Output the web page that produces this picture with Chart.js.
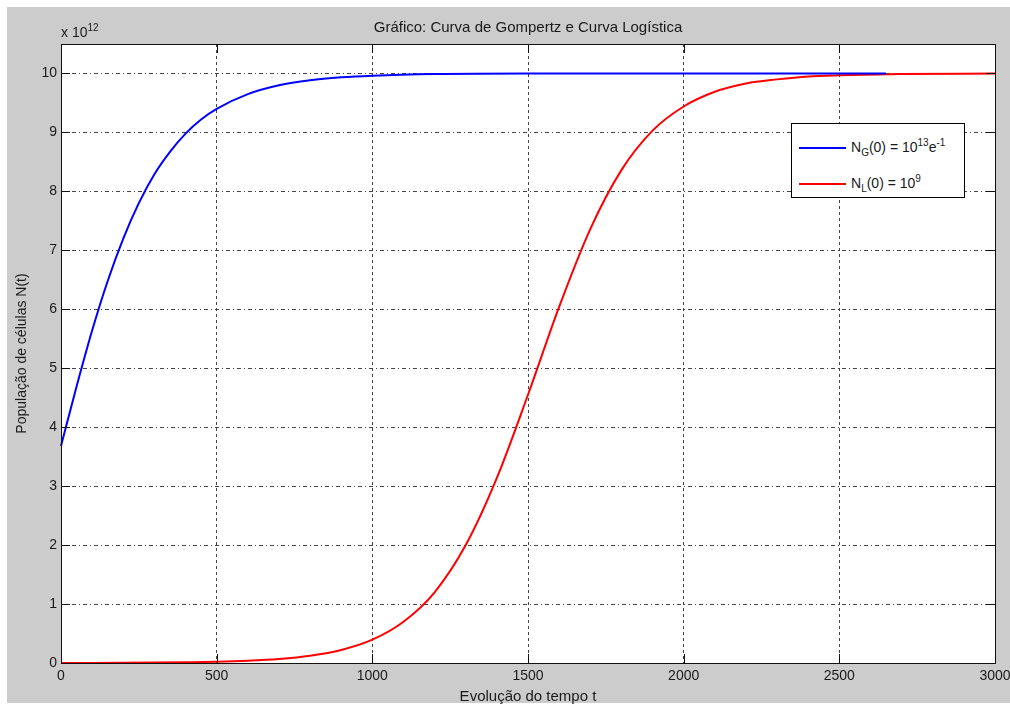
<!DOCTYPE html>
<html>
<head>
<meta charset="utf-8">
<script src="https://cdn.jsdelivr.net/npm/chart.js@4"></script>
<style>
  html, body { margin: 0; padding: 0; background: #fff; }
  body { width: 1010px; height: 706px; position: relative; overflow: hidden; font-family: "Liberation Sans", Arial, sans-serif; color: #1a1a1a; }
  #frame { position: absolute; left: 7px; top: 7px; width: 1003px; height: 696px; background: #cccccc; }
  #wrap { position: absolute; left: 0; top: 0; width: 1010px; height: 706px; }
  #title { position: absolute; left: 61px; width: 934px; top: 18px; text-align: center; font-size: 15px; }
  #mult { position: absolute; left: 61px; top: 22px; font-size: 14px; }
  #mult sup, #legend sup { font-size: 10px; vertical-align: 6px; }
  #legend sub { font-size: 10px; vertical-align: -4px; }
  #legend { position: absolute; left: 791px; top: 123px; width: 172px; height: 73px; border: 1px solid #000; background: #fff; font-size: 14px; }
  .row { position: absolute; left: 7px; height: 20px; line-height: 20px; white-space: nowrap; }
  .swatch { display: inline-block; width: 47px; height: 0; border-top: 2px solid; vertical-align: middle; margin-right: 5px; }
</style>
</head>
<body>
<div id="frame"></div>
<div id="wrap"><canvas id="chart" width="1010" height="706"></canvas></div>
<div id="title">Gráfico: Curva de Gompertz e Curva Logística</div>
<div id="mult">x 10<sup>12</sup></div>
<div id="legend"></div>
<script>
// Gompertz curve, N in units of 10^12
const gompTime = [0, 50, 100, 150, 200, 250, 300, 350, 400, 450, 500, 600, 700, 800, 900, 1000, 1200, 1500, 2000, 2650];
const gompValues = [3.68, 4.69, 5.64, 6.48, 7.20, 7.80, 8.29, 8.67, 8.98, 9.22, 9.40, 9.65, 9.80, 9.885, 9.934, 9.962, 9.99, 10, 10, 10];

// Logistic curve
const logTime = [0, 100, 200, 300, 400, 500, 600, 700, 800, 900, 1000, 1100, 1200, 1300, 1400, 1500, 1600, 1700, 1800, 1900, 2000, 2100, 2200, 2300, 2400, 2500, 2700, 3000];
const logValues = [0.001, 0.002, 0.004, 0.007, 0.012, 0.02, 0.037, 0.067, 0.122, 0.22, 0.395, 0.70, 1.20, 2.0, 3.14, 4.55, 6.04, 7.36, 8.36, 9.03, 9.44, 9.69, 9.83, 9.90, 9.95, 9.97, 9.99, 10];

const xTicks = [0, 500, 1000, 1500, 2000, 2500, 3000];
const yTicks = [0, 1, 2, 3, 4, 5, 6, 7, 8, 9, 10];

const seriesLabels = ['N<sub>G</sub>(0) = 10<sup>13</sup>e<sup>-1</sup>', 'N<sub>L</sub>(0) = 10<sup>9</sup>'];
const seriesColors = ['#0000ff', '#ff0000'];

const toPoints = (xs, ys) => xs.map((x, i) => ({ x, y: ys[i] }));
const font = { family: '"Liberation Sans", Arial, sans-serif', size: 14 };
const labelFont = { family: '"Liberation Sans", Arial, sans-serif', size: 15 };

// white axes area, box and inward ticks like matlab
const axesBox = {
  id: 'axesBox',
  beforeDraw(chart) {
    const { ctx, chartArea: a } = chart;
    ctx.save();
    ctx.fillStyle = '#fff';
    ctx.fillRect(a.left, a.top, a.right - a.left, a.bottom - a.top);
    ctx.restore();
  },
  afterDraw(chart) {
    const { ctx, chartArea: a, scales } = chart;
    ctx.save();
    ctx.strokeStyle = '#111';
    ctx.lineWidth = 1;
    ctx.beginPath();
    xTicks.forEach(v => {
      const px = Math.round(scales.x.getPixelForValue(v)) + 0.5;
      ctx.moveTo(px, a.bottom); ctx.lineTo(px, a.bottom - 9);
      ctx.moveTo(px, a.top); ctx.lineTo(px, a.top + 9);
    });
    yTicks.forEach(v => {
      const py = Math.round(scales.y.getPixelForValue(v)) + 0.5;
      ctx.moveTo(a.left, py); ctx.lineTo(a.left + 9, py);
      ctx.moveTo(a.right, py); ctx.lineTo(a.right - 9, py);
    });
    ctx.stroke();
    ctx.strokeRect(Math.round(a.left) + 0.5, Math.round(a.top) + 0.5, Math.round(a.right - a.left), Math.round(a.bottom - a.top));
    ctx.restore();
  }
};

const chart = new Chart(document.getElementById('chart'), {
  type: 'line',
  data: {
    datasets: [
      { data: toPoints(gompTime, gompValues), borderColor: seriesColors[0], borderWidth: 2, pointRadius: 0, cubicInterpolationMode: 'monotone', clip: 4 },
      { data: toPoints(logTime, logValues), borderColor: seriesColors[1], borderWidth: 2, pointRadius: 0, cubicInterpolationMode: 'monotone', clip: 4 }
    ]
  },
  options: {
    responsive: false,
    animation: false,
    layout: { padding: { left: 0, top: 44, right: 15, bottom: 0 } },
    plugins: { legend: { display: false }, tooltip: { enabled: false } },
    scales: {
      x: {
        type: 'linear', min: 0, max: 3000,
        afterBuildTicks: s => { s.ticks = xTicks.map(value => ({ value })); },
        afterFit: s => { s.height = 43; s.paddingLeft = 0; s.paddingRight = 0; },
        ticks: { font, color: '#1a1a1a', padding: 5, maxRotation: 0, callback: v => String(v) },
        grid: { color: '#444', lineWidth: 1, drawTicks: false },
        border: { display: false, dash: [3, 3] },
        title: { display: true, text: 'Evolução do tempo t', font: labelFont, color: '#1a1a1a', padding: { top: 0, bottom: 0 } }
      },
      y: {
        min: 0, max: 10.5,
        afterBuildTicks: s => { s.ticks = yTicks.map(value => ({ value })); },
        afterFit: s => { s.width = 61; s.paddingTop = 0; s.paddingBottom = 0; },
        ticks: { font, color: '#1a1a1a', padding: 4, callback: v => String(v) },
        grid: { color: '#444', lineWidth: 1, drawTicks: false },
        border: { display: false, dash: [4, 3, 1, 3] },
        title: { display: true, text: 'População de células N(t)', font, color: '#1a1a1a', padding: { top: 14, bottom: 0 } }
      }
    }
  },
  plugins: [axesBox]
});

// legend with sub/superscripts
const legend = document.getElementById('legend');
seriesLabels.forEach((label, i) => {
  const row = document.createElement('div');
  row.className = 'row';
  row.style.top = (i === 0 ? 9 : 45) + 'px';
  row.innerHTML = '<span class="swatch" style="border-color:' + seriesColors[i] + '"></span>' + label;
  legend.appendChild(row);
});
</script>
</body>
</html>
